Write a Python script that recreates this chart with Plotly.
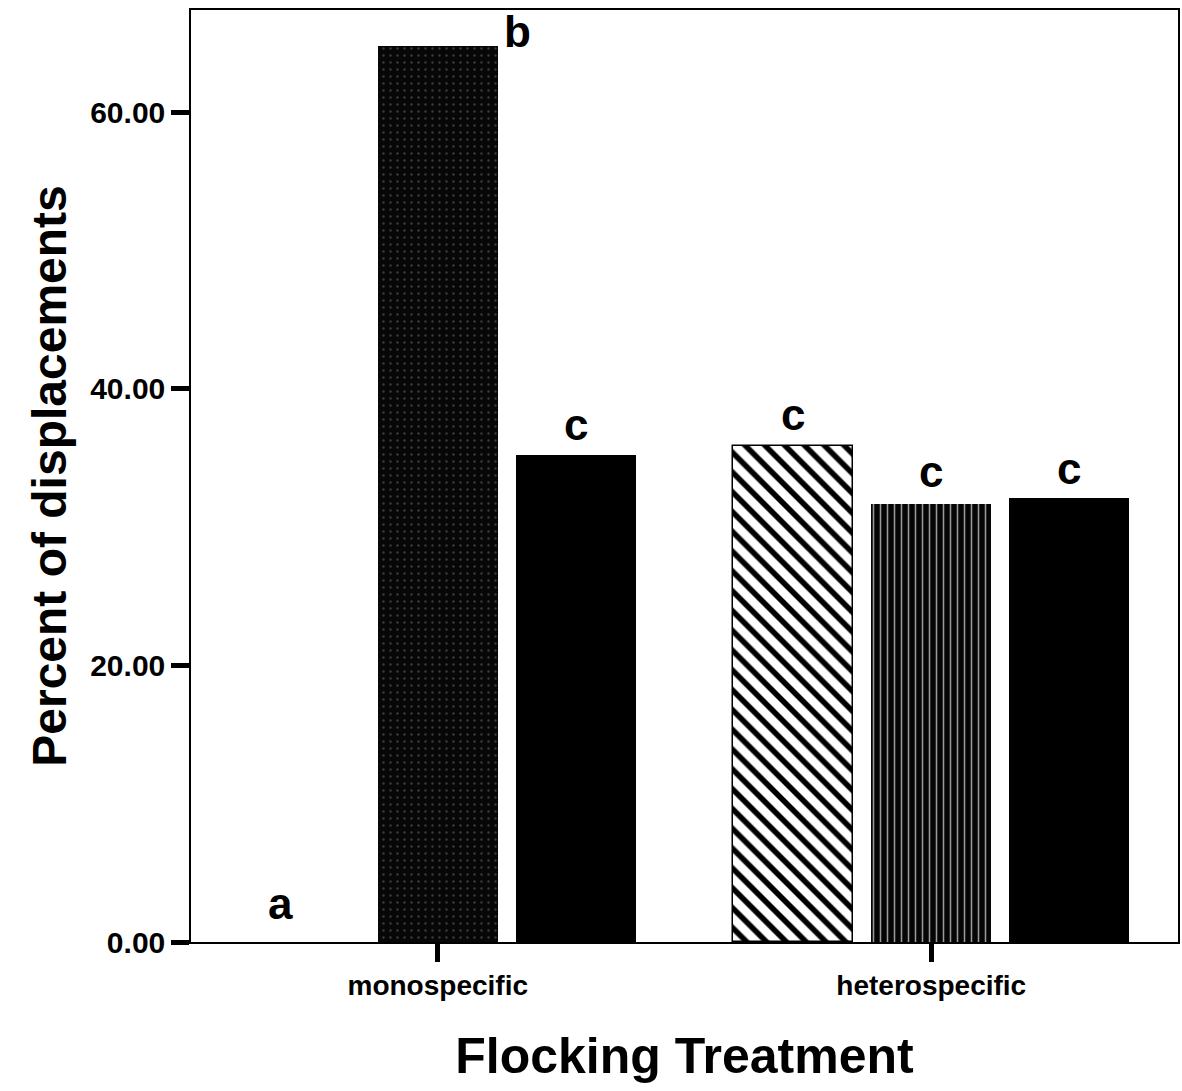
import plotly.graph_objects as go

# ---- data ----
groups = ["monospecific", "heterospecific"]
series1 = [0.0, 35.9]     # first bar in each group
series2 = [64.8, 31.7]    # second bar
series3 = [35.2, 32.1]    # third bar
letters1 = ["a", "c"]
letters2 = ["b", "c"]
letters3 = ["c", "c"]
yticks = [0, 20, 40, 60]

group_x = list(range(len(groups)))
slot = 0.28
bw = 0.243

fig = go.Figure()

# style for each (series, group) bar
styles = [
    [dict(color="#ffffff", line=dict(width=0)),
     dict(color="#ffffff",
          pattern=dict(shape="\\", fgcolor="#000000", fgopacity=1, size=14, solidity=0.4,
                       fillmode="overlay"),
          line=dict(color="#000000", width=1.5))],
    [dict(color="#070707",
          pattern=dict(shape=".", fgcolor="#3a3a3a", fgopacity=1, size=7, solidity=0.1,
                       fillmode="overlay"),
          line=dict(width=0)),
     dict(color="#050505",
          pattern=dict(shape="|", fgcolor="#9a9a9a", fgopacity=1, size=7, solidity=0.22,
                       fillmode="overlay"),
          line=dict(width=0))],
    [dict(color="#000000", line=dict(width=0)),
     dict(color="#000000", line=dict(width=0))],
]
series = [series1, series2, series3]
letters = [letters1, letters2, letters3]

for i, vals in enumerate(series):
    for g, v in enumerate(vals):
        fig.add_trace(go.Bar(
            x=[group_x[g]], y=[v], width=bw, offset=(i - 1) * slot - bw / 2,
            marker=styles[i][g], showlegend=False, hoverinfo="skip",
        ))

# letter annotations (shifts are styling)
xshifts = [[-19, 0], [80, 0], [0, 0]]
yshifts = [[39, 31], [14, 32], [31, 30]]
for i, (vals, labs) in enumerate(zip(series, letters)):
    for g, (v, lab) in enumerate(zip(vals, labs)):
        fig.add_annotation(
            x=group_x[g] + (i - 1) * slot, y=v, text="<b>" + lab + "</b>", showarrow=False,
            xshift=xshifts[i][g], yshift=yshifts[i][g], yanchor="middle",
            font=dict(family="Liberation Sans, Arial, sans-serif", size=44, color="#000000"),
        )

axis_font = "Liberation Sans, Arial, sans-serif"
fig.update_layout(
    width=1182, height=1091,
    margin=dict(l=191, r=2, t=10, b=149),
    paper_bgcolor="#ffffff", plot_bgcolor="#ffffff",
    bargap=0, barmode="overlay",
    font=dict(family=axis_font, color="#000000"),
    xaxis=dict(
        range=[-0.5, 1.5], tickvals=group_x, ticktext=groups,
        ticks="outside", ticklen=18, tickwidth=5, tickcolor="#000000",
        tickfont=dict(size=28, family=axis_font, weight="bold"),
        showline=True, linecolor="#000000", linewidth=1.5, mirror=True,
        showgrid=False, zeroline=False,
        title=dict(text="<b>Flocking Treatment</b>", font=dict(size=50, family=axis_font), standoff=38),
    ),
    yaxis=dict(
        range=[0, 67.4], tickvals=yticks, tickformat=".2f",
        ticks="outside", ticklen=18, tickwidth=5, tickcolor="#000000",
        tickfont=dict(size=30, family=axis_font, weight="bold"),
        showline=True, linecolor="#000000", linewidth=1.5, mirror=True,
        showgrid=False, zeroline=False,
        title=dict(text="<b>Percent of displacements</b>", font=dict(size=48, family=axis_font), standoff=8),
    ),
)

fig.write_html("out.html")
